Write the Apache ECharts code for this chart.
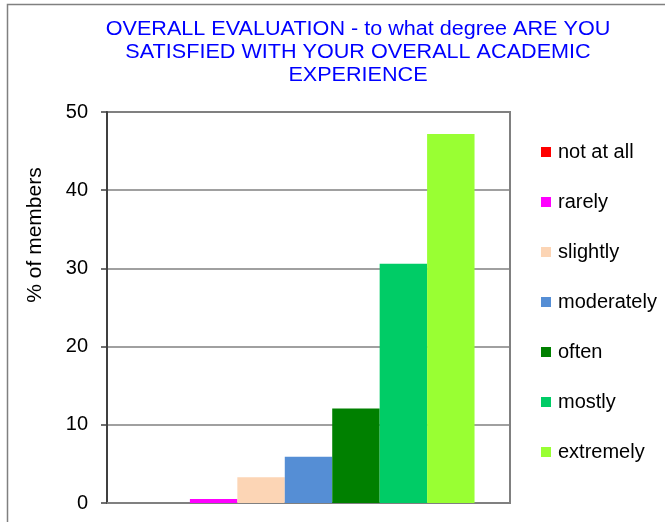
<!DOCTYPE html>
<html>
<head>
<meta charset="utf-8">
<script src="https://cdn.jsdelivr.net/npm/echarts@6/dist/echarts.min.js"></script>
<style>html,body{margin:0;padding:0;background:#fff}#c{width:665px;height:522px}</style>
</head>
<body>
<div id="c"></div>
<script>
var seriesNames = ['not at all', 'rarely', 'slightly', 'moderately', 'often', 'mostly', 'extremely'];
var seriesValues = [0, 0.5, 3.3, 5.9, 12.1, 30.6, 47.2];
var seriesColors = ['#FF0000', '#FF00FF', '#FCD5B5', '#558ED5', '#008000', '#00CC66', '#99FF33'];
var yTicks = [0, 10, 20, 30, 40, 50];
var titleText = 'OVERALL EVALUATION - to what degree ARE YOU\nSATISFIED WITH YOUR OVERALL ACADEMIC\nEXPERIENCE';
var yAxisTitle = '% of members';

var font = '"Liberation Sans", Arial, sans-serif';
var chart = echarts.init(document.getElementById('c'), null, {renderer: 'canvas'});
var series = seriesNames.map(function (n, i) {
  return {
    name: n, type: 'bar', data: [seriesValues[i]],
    itemStyle: {color: seriesColors[i]},
    barGap: '0%', barCategoryGap: '17.6%'
  };
});
chart.setOption({
  animation: false,
  backgroundColor: '#fff',
  legend: {
    orient: 'vertical', left: 541, top: 142, padding: 0,
    itemWidth: 10, itemHeight: 10, itemGap: 30, icon: 'rect',
    textStyle: {fontFamily: font, fontSize: 20, color: '#000', lineHeight: 20, padding: [0, 0, 0, 2]},
    data: seriesNames
  },
  grid: {left: 107, right: 155, top: 112, bottom: 19, show: true, borderColor: '#808080', borderWidth: 2, backgroundColor: 'transparent'},
  xAxis: {
    type: 'category', data: [''],
    axisLine: {lineStyle: {color: '#808080', width: 2}},
    axisTick: {show: false}, axisLabel: {show: false}
  },
  yAxis: {
    type: 'value', min: yTicks[0], max: yTicks[yTicks.length - 1], interval: 10,
    axisLine: {show: true, lineStyle: {color: '#404040', width: 2}},
    axisTick: {show: true, length: 6, lineStyle: {color: '#404040', width: 1.5}},
    axisLabel: {fontFamily: font, fontSize: 20, color: '#000', margin: 19},
    splitLine: {lineStyle: {color: '#808080', width: 1.5}}
  },
  graphic: [
    {type: 'rect', left: 5, top: 2, shape: {x: 0, y: 0, width: 700, height: 600}, style: {fill: 'none', stroke: '#808080', lineWidth: 1.5}, silent: true, z: -10},
    {type: 'text', x: 358, y: 52, scaleX: 1.08,
     style: {text: titleText, fontFamily: font, fontSize: 20, lineHeight: 23, fill: '#0000FF', align: 'center', verticalAlign: 'middle'}},
    {type: 'text', x: 35, y: 235, rotation: Math.PI / 2,
     style: {text: yAxisTitle, fontFamily: font, fontSize: 21, fill: '#000', align: 'center', verticalAlign: 'middle'}}
  ],
  series: series
});
</script>
</body>
</html>
